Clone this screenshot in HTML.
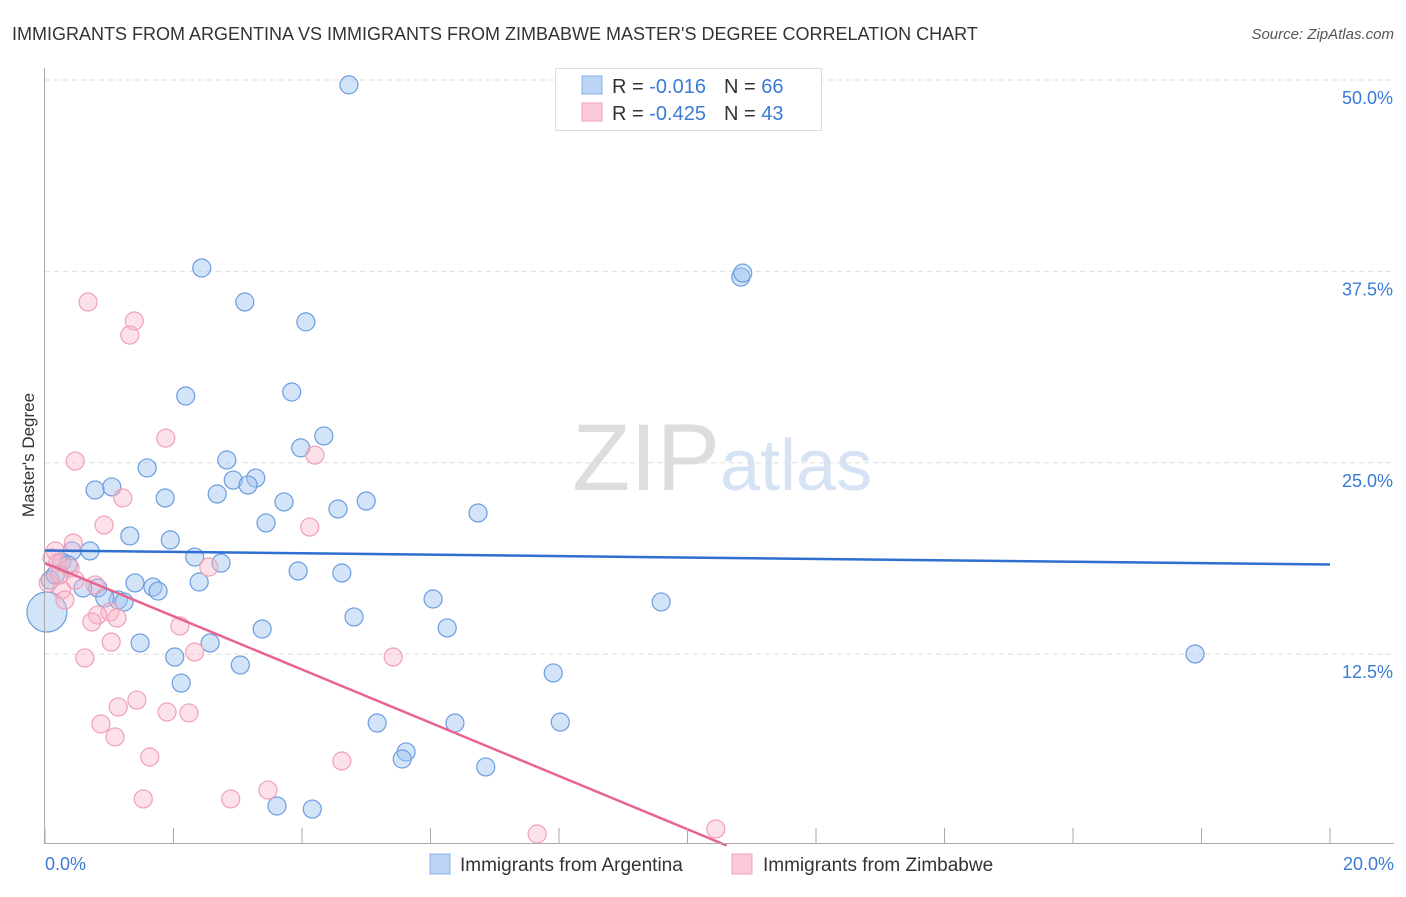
<!DOCTYPE html>
<html><head><meta charset="utf-8"><style>
body{margin:0;background:#fff;font-family:"Liberation Sans",sans-serif}
svg text{font-family:"Liberation Sans",sans-serif}
</style></head><body>
<svg id="c" width="1406" height="892" xmlns="http://www.w3.org/2000/svg">
<text x="12" y="40" font-size="18" fill="#333">IMMIGRANTS FROM ARGENTINA VS IMMIGRANTS FROM ZIMBABWE MASTER'S DEGREE CORRELATION CHART</text>
<text x="1394" y="39" font-size="15" fill="#555" font-style="italic" text-anchor="end">Source: ZipAtlas.com</text>
<text x="34" y="455" font-size="17" fill="#333" text-anchor="middle" transform="rotate(-90 34 455)">Master's Degree</text>
<text x="720" y="490" font-size="95" fill="#ddd" text-anchor="end" font-family="Liberation Serif">ZIP</text>
<text x="720" y="490" font-size="72" fill="#d5e3f5">atlas</text>
<g id="grid"></g><g id="pts"></g><g id="lines"></g>
<line x1="44.5" y1="68" x2="44.5" y2="844" stroke="#aaa"/>
<line x1="44" y1="843.5" x2="1394" y2="843.5" stroke="#aaa"/>
<text x="45" y="870" font-size="18" fill="#3a7bd5">0.0%</text>
<text x="1394" y="870" font-size="18" fill="#3a7bd5" text-anchor="end">20.0%</text>
<g>
<rect x="555.5" y="68.5" width="266" height="62" fill="#fff" stroke="#ddd"/>
<rect x="582" y="76" width="20" height="18" fill="#bcd4f5" stroke="#8ab0e6"/>
<rect x="582" y="103" width="20" height="18" fill="#fcc9d8" stroke="#f0a0b8"/>
<text x="612" y="93" font-size="20" fill="#333">R = <tspan fill="#3a7bd5"> -0.016</tspan><tspan dx="18">N = </tspan><tspan fill="#3a7bd5">66</tspan></text>
<text x="612" y="120" font-size="20" fill="#333">R = <tspan fill="#3a7bd5">-0.425</tspan><tspan dx="18">N = </tspan><tspan fill="#3a7bd5">43</tspan></text>
</g>
<g>
<rect x="430" y="854" width="20" height="20" fill="#bcd4f5" stroke="#8ab0e6"/>
<text x="460" y="871" font-size="19" fill="#333">Immigrants from Argentina</text>
<rect x="732" y="854" width="20" height="20" fill="#fcc9d8" stroke="#f0a0b8"/>
<text x="763" y="871" font-size="19" fill="#333">Immigrants from Zimbabwe</text>
</g>
</svg>
<script>
const yTicks=[12.5,25,37.5,50];
const yTickLabels=["12.5%","25.0%","37.5%","50.0%"];
const xTicks=[0,2,4,6,8,10,12,14,16,18,20];
const argX=[4.73,2.44,10.83,10.86,3.11,4.06,2.19,3.84,4.34,3.98,1.59,2.83,2.93,3.28,3.16,0.78,1.04,1.87,2.68,3.72,5.0,4.56,6.74,3.44,1.32,1.95,0.70,0.42,2.33,2.74,3.94,4.62,1.40,1.68,1.76,2.40,0.82,0.59,1.14,0.93,1.23,6.04,9.59,4.81,3.38,6.26,2.57,1.48,2.02,3.04,17.9,7.91,2.12,5.17,6.38,8.02,5.62,5.56,6.86,3.61,4.16,0.26,0.36,0.03,0.08,0.16];
const argY=[49.68,37.72,37.13,37.39,35.5,34.2,29.36,29.62,26.75,25.97,24.66,25.18,23.87,24.0,23.55,23.22,23.42,22.7,22.96,22.44,22.5,21.98,21.72,21.07,20.22,19.96,19.24,19.24,18.84,18.45,17.93,17.8,17.15,16.88,16.62,17.21,16.82,16.82,16.04,16.17,15.91,16.1,15.91,14.93,14.14,14.21,13.23,13.23,12.31,11.79,12.51,11.27,10.61,8.0,8.0,8.06,6.11,5.65,5.13,2.58,2.38,18.52,18.32,15.25,17.34,17.67];
const argBig=[63];
const zimX=[0.67,1.39,1.32,1.88,0.47,4.2,0.92,1.21,4.12,0.44,0.16,0.11,0.2,0.39,0.05,0.26,0.78,0.31,1.01,0.82,1.12,0.73,2.1,1.03,2.33,0.62,5.42,1.43,1.14,1.9,2.24,0.87,1.09,1.63,4.62,1.53,2.89,3.47,7.66,10.44,2.55,0.23,0.47];
const zimY=[35.5,34.26,33.34,26.61,25.11,25.5,20.93,22.7,20.8,19.76,19.24,18.78,18.45,18.13,17.15,16.69,17.02,16.04,15.25,15.05,14.86,14.6,14.34,13.29,12.64,12.25,12.31,9.5,9.05,8.72,8.66,7.94,7.09,5.78,5.52,3.04,3.04,3.62,0.75,1.08,18.19,17.67,17.34];
const argTrend=[19.27,18.35];
const zimTrend=[18.45,-1.739];
const NS="http://www.w3.org/2000/svg";
const xs=v=>45+v*64.25, ys=v=>845.5-v*15.31;
function mk(t,a,p){const e=document.createElementNS(NS,t);for(const k in a)e.setAttribute(k,a[k]);p.appendChild(e);return e;}
const grid=document.getElementById('grid'),pts=document.getElementById('pts'),lines=document.getElementById('lines'),svg=document.getElementById('c');
yTicks.forEach((t,i)=>{
 const l=mk('line',{x1:45,x2:1394,y1:ys(t),y2:ys(t),stroke:'#ddd','stroke-dasharray':'5,4'},grid);
 
 
 const tx=mk('text',{x:1393,y:ys(t)+24,'font-size':18,fill:'#3a7bd5','text-anchor':'end'},svg);
 tx.textContent=yTickLabels[i];
 
 
});
xTicks.forEach(t=>{
 const l=mk('line',{x1:xs(t),x2:xs(t),y1:828,y2:843,stroke:'#aaa'},svg);
 
 
});
argX.forEach((x,i)=>{
 const c=mk('circle',{cx:xs(x),cy:ys(argY[i]),r:argBig.includes(i)?20:9,fill:'rgba(160,195,240,0.45)',stroke:'#6a9de0','stroke-width':1.2},pts);
 
 
});
zimX.forEach((x,i)=>{
 const c=mk('circle',{cx:xs(x),cy:ys(zimY[i]),r:9,fill:'rgba(250,180,200,0.4)',stroke:'#f0a0b8','stroke-width':1.2},pts);
 
 
});
const bl=mk('line',{x1:xs(0),y1:ys(argTrend[0]),x2:xs(20),y2:ys(argTrend[1]),stroke:'#2f6fd0','stroke-width':2.5},lines);


const xEnd=-zimTrend[0]/zimTrend[1];
const pl=mk('line',{x1:xs(0),y1:ys(zimTrend[0]),x2:xs(xEnd),y2:ys(0),stroke:'#e8648e','stroke-width':2.5},lines);


</script>
</body></html>
